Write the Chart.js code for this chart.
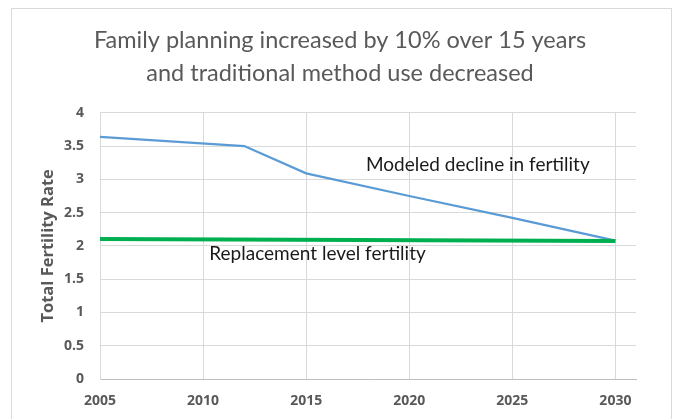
<!DOCTYPE html>
<html>
<head>
<meta charset="utf-8">
<script src="https://cdn.jsdelivr.net/npm/chart.js@4"></script>
<style>
  html, body { margin: 0; padding: 0; background: #fff; }
  #frame {
    position: absolute; left: 11px; top: 8px;
    width: 661px; height: 420px;
    border: 1.5px solid #d9d9d9; box-sizing: border-box;
  }
  #wrap { position: absolute; left: 0; top: 0; width: 680px; height: 419px; }
</style>
</head>
<body>
<div id="frame"></div>
<div id="wrap"><canvas id="tfrChart" width="680" height="419"></canvas></div>
<script>
/* ── Data ── */
const modelYears  = [2005, 2012, 2015, 2020, 2025, 2030];
const modelTFR    = [3.64, 3.50, 3.09, 2.75, 2.42, 2.08];
const replYears   = [2005, 2030];
const replTFR     = [2.105, 2.075];
const xTicks      = [2005, 2010, 2015, 2020, 2025, 2030];
const titleLines  = ['Family planning increased by 10% over 15 years', 'and traditional method use decreased'];
const noteTexts   = ['Modeled decline in fertility', 'Replacement level fertility'];
const noteAnchors = [[2017.9, 3.22], [2010.3, 1.88]];

const GREY = '#595959';

/* ── Text notes drawn inside the plot ── */
const notesPlugin = {
    id: 'notes',
    afterDatasetsDraw(chart) {
        const { ctx, scales: { x, y } } = chart;
        ctx.save();
        ctx.font = '19px Lato';
        ctx.fillStyle = '#1a1a1a';
        ctx.textBaseline = 'middle';
        ctx.textAlign = 'left';
        noteTexts.forEach((t, i) => {
            ctx.fillText(t, x.getPixelForValue(noteAnchors[i][0]), y.getPixelForValue(noteAnchors[i][1]));
        });
        ctx.restore();
    }
};

new Chart(document.getElementById('tfrChart'), {
    type: 'scatter',
    data: {
        datasets: [
            {
                label: 'Replacement level fertility',
                data: replYears.map((yr, i) => ({ x: yr, y: replTFR[i] })),
                showLine: true,
                borderColor: '#00b050',
                borderWidth: 4,
                pointRadius: 0,
                order: 0
            },
            {
                label: 'Modeled decline in fertility',
                data: modelYears.map((yr, i) => ({ x: yr, y: modelTFR[i] })),
                showLine: true,
                borderColor: '#5b9bd5',
                borderWidth: 2.25,
                pointRadius: 0,
                order: 1
            }
        ]
    },
    options: {
        responsive: false,
        animation: false,
        layout: { padding: { left: 0, right: 0, top: 24, bottom: 0 } },
        plugins: {
            legend: { display: false },
            tooltip: { enabled: false },
            title: {
                display: true,
                text: titleLines,
                color: GREY,
                font: { family: 'Lato', size: 23.5, weight: 'normal', lineHeight: 1.4 },
                padding: { top: 0, bottom: 23 }
            }
        },
        scales: {
            x: {
                type: 'linear',
                min: 2005, max: 2031,
                afterBuildTicks: axis => { axis.ticks = xTicks.map(v => ({ value: v })); },
                afterFit: axis => { axis.height = 40; },
                ticks: {
                    color: GREY,
                    padding: 14,
                    font: { family: 'Open Sans', size: 14, weight: 'bold' },
                    callback: v => String(v)
                },
                grid: { color: '#d9d9d9', drawTicks: false },
                border: { color: '#bfbfbf', width: 1 }
            },
            y: {
                min: 0, max: 4,
                afterFit: axis => { axis.width = 100; },
                ticks: {
                    stepSize: 0.5,
                    color: GREY,
                    padding: 16,
                    font: { family: 'Open Sans', size: 14, weight: 'bold' },
                    callback: v => String(v)
                },
                grid: { color: '#d9d9d9', drawTicks: false },
                border: { color: '#d9d9d9', width: 1 },
                title: {
                    display: true,
                    text: 'Total Fertility Rate',
                    color: GREY,
                    padding: { top: 38, bottom: 0 },
                    font: { family: 'Open Sans', size: 16.5, weight: 'bold' }
                }
            },
            // empty right-hand margin so the title centres on the whole frame
            yRight: {
                type: 'linear',
                position: 'right',
                afterFit: axis => { axis.width = 44; },
                grid: { display: false },
                border: { display: false },
                ticks: { display: false }
            }
        }
    },
    plugins: [notesPlugin]
});
</script>
</body>
</html>
